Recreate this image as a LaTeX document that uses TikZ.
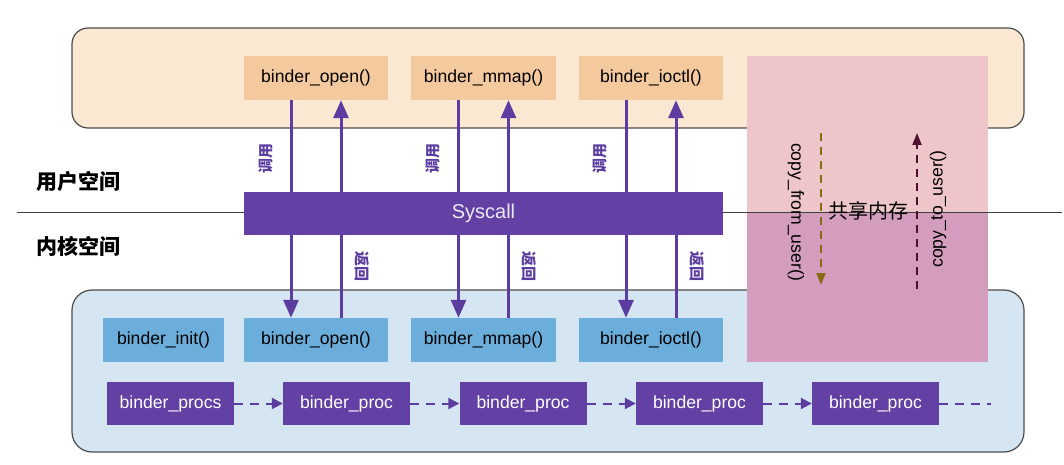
\documentclass[tikz,border=0pt]{standalone}
\usepackage{fontspec}
\setmainfont{Liberation Sans}
\newfontfamily\cjk{Noto Sans CJK SC}
\usetikzlibrary{arrows.meta}
\definecolor{userbg}{HTML}{FBE8D2}
\definecolor{userfn}{HTML}{F5C99E}
\definecolor{kernbg}{HTML}{D5E5F2}
\definecolor{kernfn}{HTML}{6BADDB}
\definecolor{shmtop}{HTML}{EEC5C9}
\definecolor{shmbot}{HTML}{D49DBE}
\definecolor{binderpurple}{HTML}{6341A4}
\definecolor{arrowpurple}{HTML}{5C3D9F}
\definecolor{fromuser}{HTML}{8A6A12}
\definecolor{touser}{HTML}{4E1030}
\begin{document}
\begin{tikzpicture}[x=1pt,y=-1pt,line cap=butt,line join=miter,font=\fontsize{17.6}{20}\selectfont]
            \tikzset{
                fnbox/.style={inner sep=0pt,minimum width=144pt,minimum height=44pt},
                userfnbox/.style={fnbox,fill=userfn},
                kernfnbox/.style={fnbox,fill=kernfn},
                procbox/.style={inner sep=0pt,minimum width=127pt,minimum height=43pt,fill=binderpurple,text=white},
                callarrow/.style={draw=arrowpurple,line width=3pt,-{Triangle[width=15pt,length=18pt]}},
                procarrow/.style={draw=arrowpurple,line width=2pt,dash pattern=on 9pt off 7pt,-{Triangle[width=11pt,length=11pt]}},
                calllabel/.style={text=arrowpurple,font=\cjk\bfseries\fontsize{15}{15}\selectfont},
                spacelabel/.style={anchor=west,font=\cjk\bfseries\fontsize{21}{21}\selectfont}
            }
            \useasboundingbox (0,0) rectangle (1064,465);
            \fill[white] (0,0) rectangle (1064,465);
            \draw[draw=black!70,line width=1.2pt,fill=userbg,rounded corners=16pt] (72,28) rectangle (1024,128);
            \draw[draw=black!70,line width=1.2pt,fill=kernbg,rounded corners=20pt] (72,290) rectangle (1024,452);
            \fill[shmtop] (747,56) rectangle (988,212);
            \fill[shmbot] (747,212) rectangle (988,362);
            \draw[black!75,line width=0.8pt] (17,212) -- (1062,212);
            \node[spacelabel] (userspace) at (33,181) {用户空间};
            \node[spacelabel] (kernspace) at (33,246) {内核空间};
            \node[userfnbox] (uopen) at (316,78) {binder\_open()};
            \node[userfnbox,minimum width=145pt] (ummap) at (483.5,78) {binder\_mmap()};
            \node[userfnbox] (uioctl) at (651,78) {binder\_ioctl()};
            \node[kernfnbox,minimum width=121pt] (kinit) at (163.5,340) {binder\_init()};
            \node[kernfnbox] (kopen) at (316,340) {binder\_open()};
            \node[kernfnbox,minimum width=145pt] (kmmap) at (483.5,340) {binder\_mmap()};
            \node[kernfnbox] (kioctl) at (651,340) {binder\_ioctl()};
            \draw[callarrow] ([xshift=-25pt]uopen.south) -- ([xshift=-25pt]kopen.north);
            \draw[callarrow] ([xshift=25pt]kopen.north) -- ([xshift=25pt]uopen.south);
            \draw[callarrow] ([xshift=-25pt]ummap.south) -- ([xshift=-25pt]kmmap.north);
            \draw[callarrow] ([xshift=25pt]kmmap.north) -- ([xshift=25pt]ummap.south);
            \draw[callarrow] ([xshift=-25pt]uioctl.south) -- ([xshift=-25pt]kioctl.north);
            \draw[callarrow] ([xshift=25pt]kioctl.north) -- ([xshift=25pt]uioctl.south);
            \node[calllabel,rotate=90] (callopen) at (266,158) {调用};
            \node[calllabel,rotate=90] (callmmap) at (433,158) {调用};
            \node[calllabel,rotate=90] (callioctl) at (600,158) {调用};
            \node[calllabel,rotate=-90] (retopen) at (362,266) {返回};
            \node[calllabel,rotate=-90] (retmmap) at (529,266) {返回};
            \node[calllabel,rotate=-90] (retioctl) at (697,266) {返回};
            \node[fill=binderpurple,inner sep=0pt,minimum width=479pt,minimum height=43pt,text=white!88!binderpurple,font=\fontsize{20}{20}\selectfont] (syscall) at (483.5,213.5) {Syscall};
            \node[procbox] (procs) at (170.5,403.5) {binder\_procs};
            \node[procbox] (proca) at (346.5,403.5) {binder\_proc};
            \node[procbox] (procb) at (523,403.5) {binder\_proc};
            \node[procbox] (procc) at (699.5,403.5) {binder\_proc};
            \node[procbox] (procd) at (875.5,403.5) {binder\_proc};
            \coordinate (proctail) at (991,403.5);
            \draw[procarrow] (procs) -- (proca);
            \draw[procarrow] (proca) -- (procb);
            \draw[procarrow] (procb) -- (procc);
            \draw[procarrow] (procc) -- (procd);
            \draw[procarrow,-] (procd) -- (proctail);
            \coordinate (fromtop) at (821,133);
            \coordinate (frombot) at (821,285);
            \coordinate (totop) at (917,133);
            \coordinate (tobot) at (917,289);
            \draw[fromuser,line width=2pt,dash pattern=on 8pt off 6pt,-{Triangle[width=9pt,length=12pt]}] (fromtop) -- (frombot);
            \draw[touser,line width=2pt,dash pattern=on 8pt off 6pt,-{Triangle[width=9pt,length=12pt]}] (tobot) -- (totop);
            \node[rotate=-90] (copyfrom) at (796,212) {copy\_from\_user()};
            \node[rotate=90] (copyto) at (938,209) {copy\_to\_user()};
            \node[font=\cjk\fontsize{20}{20}\selectfont] (shm) at (868,211) {共享内存};
    \end{tikzpicture}
\end{document}
